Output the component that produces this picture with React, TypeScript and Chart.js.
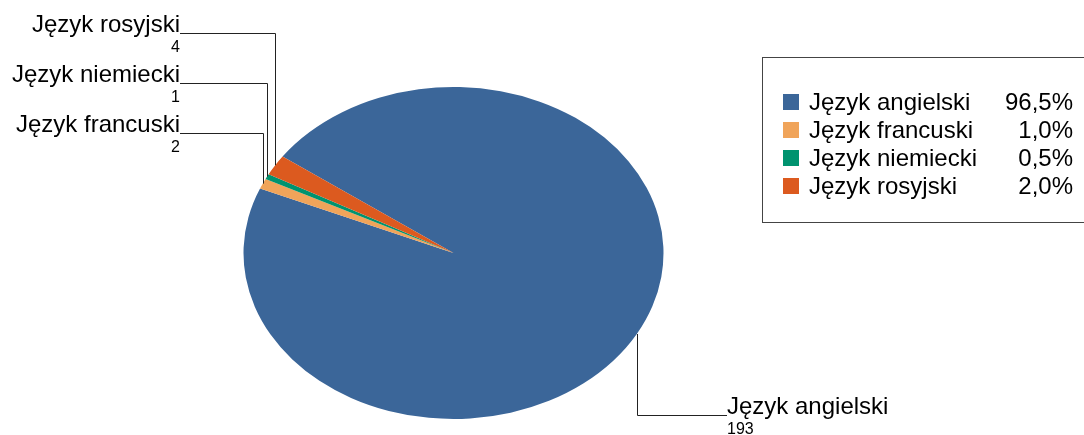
import React, { useEffect, useRef } from "react";
import { Chart, registerables } from "chart.js";

Chart.register(...registerables);

const categories = ["Język angielski", "Język francuski", "Język niemiecki", "Język rosyjski"];
const counts = [193, 2, 1, 4];
const colors = ["#3b6699", "#f0a45a", "#00936f", "#dc5a1f"];

// label anchors (layout only)
const labelSide = ["right", "left", "left", "left"];
const labelAnchorX = [727, 180, 180, 180];
const labelAnchorY = [415, 133, 83, 33];

const W = 1084;
const H = 435;
const SX = 210 / 166; // horizontal stretch of pie (ellipse)
const FONT = '"Liberation Sans", Arial, sans-serif';

const ellipsePlugin = {
  id: "ellipse",
  beforeDatasetsDraw(chart: any) {
    const arc = chart.getDatasetMeta(0).data[0];
    if (!arc) return;
    const ctx = chart.ctx;
    ctx.save();
    ctx.translate(arc.x, arc.y);
    ctx.scale(SX, 1);
    ctx.translate(-arc.x, -arc.y);
  },
  afterDatasetsDraw(chart: any) {
    chart.ctx.restore();
  },
};

const labelsPlugin = {
  id: "leaderLabels",
  afterDraw(chart: any) {
    const ctx = chart.ctx;
    const meta = chart.getDatasetMeta(0);
    ctx.save();
    meta.data.forEach((arc: any, i: number) => {
      const mid = (arc.startAngle + arc.endAngle) / 2;
      const px = arc.x + Math.cos(mid) * arc.outerRadius * SX;
      const py = arc.y + Math.sin(mid) * arc.outerRadius;
      const ax = labelAnchorX[i];
      const ay = labelAnchorY[i];
      ctx.strokeStyle = "#222";
      ctx.lineWidth = 1;
      ctx.beginPath();
      ctx.moveTo(Math.round(px) + 0.5, py);
      ctx.lineTo(Math.round(px) + 0.5, ay + 0.5);
      ctx.lineTo(ax, ay + 0.5);
      ctx.stroke();
      ctx.fillStyle = "#000";
      ctx.textBaseline = "alphabetic";
      ctx.textAlign = labelSide[i] === "left" ? "right" : "left";
      ctx.font = `24px ${FONT}`;
      ctx.fillText(categories[i], ax, ay - 1);
      ctx.font = `16px ${FONT}`;
      ctx.fillText(String(counts[i]), ax, ay + 19);
    });

    // legend box
    const total = counts.reduce((a, b) => a + b, 0);
    ctx.strokeStyle = "#444";
    ctx.lineWidth = 1;
    ctx.strokeRect(762.5, 57.5, 340, 165);
    categories.forEach((c, i) => {
      const cy = 102 + i * 28;
      ctx.fillStyle = colors[i];
      ctx.fillRect(783, cy - 8, 16, 16);
      ctx.fillStyle = "#000";
      ctx.font = `24px ${FONT}`;
      ctx.textAlign = "left";
      ctx.textBaseline = "alphabetic";
      ctx.fillText(c, 809, cy + 8);
      ctx.textAlign = "right";
      const pct = ((counts[i] / total) * 100).toFixed(1).replace(".", ",") + "%";
      ctx.fillText(pct, 1073, cy + 8);
    });
    ctx.restore();
  },
};

export default function App() {
  const ref = useRef<HTMLCanvasElement | null>(null);
  useEffect(() => {
    if (!ref.current) return;
    const chart = new Chart(ref.current, {
      type: "pie",
      data: {
        labels: categories,
        datasets: [
          {
            data: counts,
            backgroundColor: colors,
            borderWidth: 0,
          },
        ],
      },
      options: {
        responsive: false,
        animation: false,
        rotation: -54.5,
        layout: { padding: { left: 287.5, right: 464.5, top: 87, bottom: 16 } },
        plugins: {
          legend: { display: false },
          tooltip: { enabled: false },
        },
      },
      plugins: [ellipsePlugin, labelsPlugin],
    });
    return () => chart.destroy();
  }, []);
  return (
    <div style={{ position: "absolute", left: 0, top: 0, width: W, height: H, background: "#fff" }}>
      <canvas ref={ref} width={W} height={H} style={{ width: W, height: H, display: "block" }} />
    </div>
  );
}
